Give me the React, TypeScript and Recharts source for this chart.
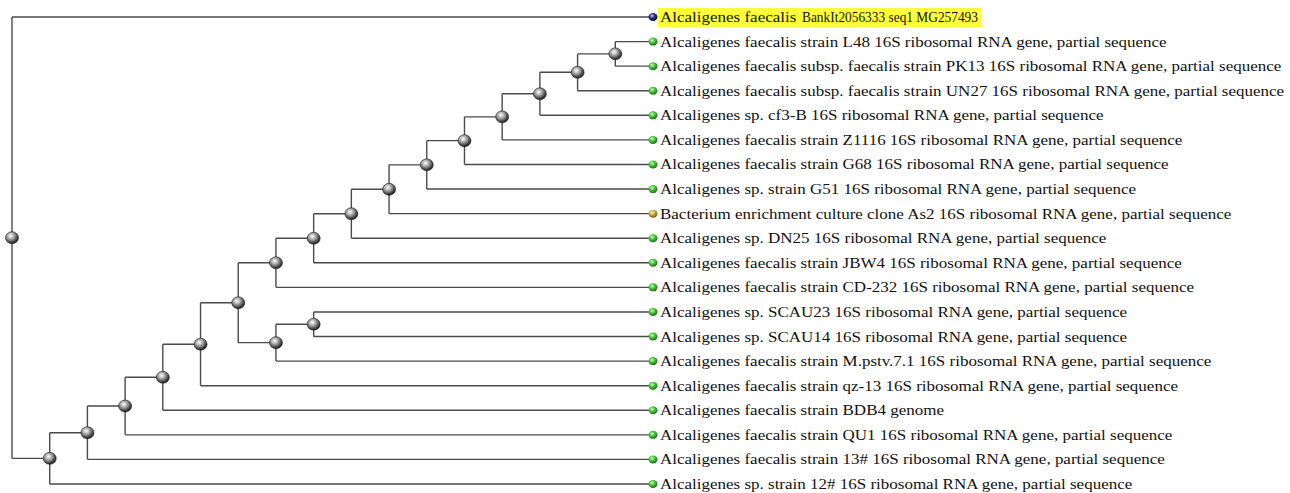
import { ScatterChart, Scatter, XAxis, YAxis, ReferenceLine } from 'recharts'

// leaf labels, top to bottom
const leafLabels = [
  'Alcaligenes faecalis BankIt2056333 seq1 MG257493',
  'Alcaligenes faecalis strain L48 16S ribosomal RNA gene, partial sequence',
  'Alcaligenes faecalis subsp. faecalis strain PK13 16S ribosomal RNA gene, partial sequence',
  'Alcaligenes faecalis subsp. faecalis strain UN27 16S ribosomal RNA gene, partial sequence',
  'Alcaligenes sp. cf3-B 16S ribosomal RNA gene, partial sequence',
  'Alcaligenes faecalis strain Z1116 16S ribosomal RNA gene, partial sequence',
  'Alcaligenes faecalis strain G68 16S ribosomal RNA gene, partial sequence',
  'Alcaligenes sp. strain G51 16S ribosomal RNA gene, partial sequence',
  'Bacterium enrichment culture clone As2 16S ribosomal RNA gene, partial sequence',
  'Alcaligenes sp. DN25 16S ribosomal RNA gene, partial sequence',
  'Alcaligenes faecalis strain JBW4 16S ribosomal RNA gene, partial sequence',
  'Alcaligenes faecalis strain CD-232 16S ribosomal RNA gene, partial sequence',
  'Alcaligenes sp. SCAU23 16S ribosomal RNA gene, partial sequence',
  'Alcaligenes sp. SCAU14 16S ribosomal RNA gene, partial sequence',
  'Alcaligenes faecalis strain M.pstv.7.1 16S ribosomal RNA gene, partial sequence',
  'Alcaligenes faecalis strain qz-13 16S ribosomal RNA gene, partial sequence',
  'Alcaligenes faecalis strain BDB4 genome',
  'Alcaligenes faecalis strain QU1 16S ribosomal RNA gene, partial sequence',
  'Alcaligenes faecalis strain 13# 16S ribosomal RNA gene, partial sequence',
  'Alcaligenes sp. strain 12# 16S ribosomal RNA gene, partial sequence',
]
const leafKinds = ['query', 'ref', 'ref', 'ref', 'ref', 'ref', 'ref', 'ref', 'env', 'ref', 'ref', 'ref', 'ref', 'ref', 'ref', 'ref', 'ref', 'ref', 'ref', 'ref']
const leafDepth = 17

// internal nodes: depth and children (L = leaf index, N = node index)
const nodeDepths = [0, 1, 2, 3, 4, 5, 6, 7, 8, 9, 10, 11, 12, 13, 14, 15, 16, 7, 8]
const nodeChildren = [
  ['L0', 'N1'],
  ['N2', 'L19'],
  ['N3', 'L18'],
  ['N4', 'L17'],
  ['N5', 'L16'],
  ['N6', 'L15'],
  ['N7', 'N17'],
  ['N8', 'L11'],
  ['N9', 'L10'],
  ['N10', 'L9'],
  ['N11', 'L8'],
  ['N12', 'L7'],
  ['N13', 'L6'],
  ['N14', 'L5'],
  ['N15', 'L4'],
  ['N16', 'L3'],
  ['L1', 'L2'],
  ['N18', 'L14'],
  ['L12', 'L13'],
]

function pos(ref: string): { x: number; y: number } {
  const i = Number(ref.slice(1))
  if (ref[0] === 'L') return { x: leafDepth, y: i }
  const ys = nodeChildren[i].map(c => pos(c).y)
  return { x: nodeDepths[i], y: (Math.min(...ys) + Math.max(...ys)) / 2 }
}

const leafData = leafLabels.map((label, i) => ({ x: leafDepth, y: i, label, kind: leafKinds[i] }))
const nodeData = nodeDepths.map((_, i) => pos('N' + i))

const segments: { x1: number; y1: number; x2: number; y2: number }[] = []
nodeChildren.forEach((kids, i) => {
  const p = nodeData[i]
  const cs = kids.map(pos)
  const ys = cs.map(c => c.y)
  segments.push({ x1: p.x, y1: Math.min(...ys), x2: p.x, y2: Math.max(...ys) })
  cs.forEach(c => segments.push({ x1: p.x, y1: c.y, x2: c.x, y2: c.y }))
})

const markerFill: Record<string, string> = { query: 'url(#gQuery)', ref: 'url(#gRef)', env: 'url(#gEnv)' }
const serif = "'Liberation Serif', 'Times New Roman', serif"

const NodeShape = (props: any) => {
  const { cx, cy } = props
  return <ellipse cx={cx} cy={cy} rx={6.5} ry={6} fill="url(#gNode)" stroke="#222" strokeWidth={0.6} />
}

const LeafShape = (props: any) => {
  const { cx, cy, payload } = props
  const isQuery = payload.kind === 'query'
  const head = isQuery ? 'Alcaligenes faecalis' : payload.label
  return (
    <g>
      {isQuery && <rect x={cx + 5} y={cy - 9} width={323} height={19} fill="#ffff3c" />}
      <ellipse cx={cx} cy={cy} rx={4.5} ry={4} fill={markerFill[payload.kind]} />
      <text transform={`translate(${cx + 7},${cy + 5}) scale(1.134,1)`} fontFamily={serif} fontSize={15} fill="#111">
        {head}
      </text>
      {isQuery && (
        <text
          x={cx + 149}
          y={cy + 5}
          fontFamily={serif}
          fontSize={15}
          fill="#111"
          textLength={176}
          lengthAdjust="spacingAndGlyphs"
        >
          {payload.label.replace('Alcaligenes faecalis ', '')}
        </text>
      )}
    </g>
  )
}

export default function App() {
  return (
    <div style={{ position: 'absolute', left: 0, top: 0, background: '#fff' }}>
      <ScatterChart width={1290} height={493} margin={{ top: 17, right: 637, bottom: 9, left: 12 }}>
        <defs>
          <radialGradient id="gNode" cx="40%" cy="35%" r="65%">
            <stop offset="0%" stopColor="#ffffff" />
            <stop offset="40%" stopColor="#aaaaaa" />
            <stop offset="100%" stopColor="#151515" />
          </radialGradient>
          <radialGradient id="gRef" cx="40%" cy="35%" r="65%">
            <stop offset="0%" stopColor="#c8ffc0" />
            <stop offset="45%" stopColor="#4cc63e" />
            <stop offset="100%" stopColor="#1d6e18" />
          </radialGradient>
          <radialGradient id="gQuery" cx="40%" cy="35%" r="65%">
            <stop offset="0%" stopColor="#c8c8ff" />
            <stop offset="45%" stopColor="#30308a" />
            <stop offset="100%" stopColor="#0a0a30" />
          </radialGradient>
          <radialGradient id="gEnv" cx="40%" cy="35%" r="65%">
            <stop offset="0%" stopColor="#fff4c0" />
            <stop offset="45%" stopColor="#d2b048" />
            <stop offset="100%" stopColor="#7a5e14" />
          </radialGradient>
        </defs>
        <XAxis type="number" dataKey="x" domain={[0, 17]} hide />
        <YAxis type="number" dataKey="y" domain={[0, 19]} reversed hide />
        {segments.map((s, i) => (
          <ReferenceLine
            key={i}
            segment={[{ x: s.x1, y: s.y1 }, { x: s.x2, y: s.y2 }]}
            stroke="#4a4a4a"
            strokeWidth={1.4}
            ifOverflow="visible"
          />
        ))}
        <Scatter data={nodeData} shape={NodeShape} isAnimationActive={false} />
        <Scatter data={leafData} shape={LeafShape} isAnimationActive={false} />
      </ScatterChart>
    </div>
  )
}
